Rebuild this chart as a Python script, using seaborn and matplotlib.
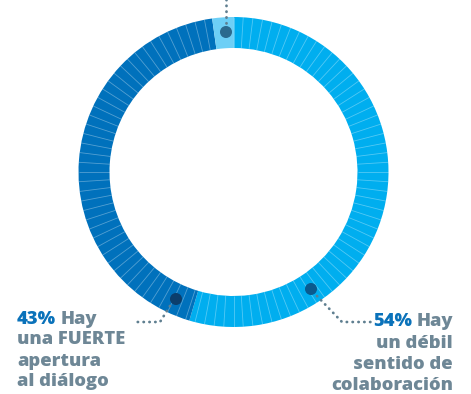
import numpy as np
import matplotlib
matplotlib.use("Agg")
import matplotlib.pyplot as plt
from matplotlib.patches import Circle
import seaborn as sns

# ---- data ----
categories = ["Hay un débil sentido de colaboración",
              "Hay una FUERTE apertura al diálogo",
              "Otro"]
shares = [54.6, 43.2, 2.2]          # drawn ring shares
pct_labels = ["54%", "43%", ""]
colors = ["#00AEEF", "#0071BC", "#6DCFF6"]

sns.set_theme(style="white")
plt.rcParams['font.family'] = ['Open Sans', 'DejaVu Sans']

W, H = 471, 394
fig = plt.figure(figsize=(W / 100, H / 100), dpi=100)
ax = fig.add_axes([0, 0, 1, 1])

cx, cy = 233.5, H - 172
R, width = 155, 31

ax.pie(shares, colors=colors, startangle=90, counterclock=False,
       radius=R, center=(cx, cy),
       wedgeprops=dict(width=width, linewidth=0))

# faint segment separators (100 ticks)
cum_top = 100 - shares[2]
for k in range(100):
    if k > cum_top:
        continue
    ang = np.deg2rad(90 - k * 3.6)
    r0, r1 = R - width, R
    ax.plot([cx + r0 * np.cos(ang), cx + r1 * np.cos(ang)],
            [cy + r0 * np.sin(ang), cy + r1 * np.sin(ang)],
            color="white", alpha=0.33, lw=0.6, solid_capstyle="butt")

ax.set_xlim(0, W)
ax.set_ylim(0, H)
ax.set_aspect("equal")
ax.axis("off")

def img(x, y):
    return x, H - y

lead_col = "#5F7F90"
# dots
for (x, y), c in [((226, 32), "#2B6A8E"), ((311, 289), "#0B5A8E"), ((176, 299), "#0C3E6C")]:
    ax.add_patch(Circle(img(x, y), 5.3, color=c, zorder=5))

dot_ls = dict(color=lead_col, lw=2.0, linestyle=(0, (0.1, 2.0)),
              dash_capstyle="round", zorder=4)
# top leader
ax.plot([226, 226], [H - 23, H + 2], **dot_ls)
# left leader
xs, ys = zip(img(170, 306), img(160, 322), img(133, 322))
ax.plot(xs, ys, **dot_ls)
# right leader
xs, ys = zip(img(317, 296), img(342, 322), img(371, 322))
ax.plot(xs, ys, **dot_ls)

txt_col = "#6E8796"
pct_col = "#0A72BA"
fs = 13.2

# left label
x0 = 17
t = ax.text(x0, H - 319, pct_labels[1], color=pct_col, fontsize=fs,
            fontweight="heavy", va="center", ha="left")
fig.canvas.draw()
bb = t.get_window_extent().transformed(ax.transData.inverted())
ax.text(bb.x1 + 4, H - 319, "Hay", color=txt_col, fontsize=fs,
        fontweight="heavy", va="center", ha="left")
for i, line in enumerate(["una FUERTE", "apertura", "al diálogo"]):
    ax.text(x0, H - (340 + 21 * i), line, color=txt_col, fontsize=fs,
            fontweight="heavy", va="center", ha="left")

# right label
xr = 453
t = ax.text(xr, H - 322, "Hay", color=txt_col, fontsize=fs,
            fontweight="heavy", va="center", ha="right")
fig.canvas.draw()
bb = t.get_window_extent().transformed(ax.transData.inverted())
ax.text(bb.x0 - 4, H - 322, pct_labels[0], color=pct_col, fontsize=fs,
        fontweight="heavy", va="center", ha="right")
for i, line in enumerate(["un débil", "sentido de", "colaboración"]):
    ax.text(xr, H - (343.5 + 21 * i), line, color=txt_col, fontsize=fs,
            fontweight="heavy", va="center", ha="right")

fig.savefig("out.png", dpi=100, facecolor="white")
